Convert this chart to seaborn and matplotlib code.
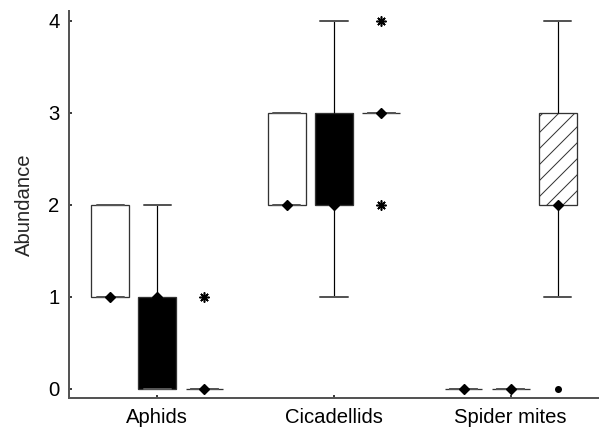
import numpy as np
import pandas as pd
import seaborn as sns
import matplotlib
matplotlib.use("Agg")
import matplotlib.pyplot as plt

# ---------------- data ----------------
groups = ["Aphids", "Cicadellids", "Spider mites"]
treatments = ["T1", "T2", "T3"]

aphids_t1 = [1, 1, 1, 2, 2]
aphids_t2 = [0, 0, 1, 1, 2]
aphids_t3 = [0, 0, 0, 0, 1]
cicadellids_t1 = [2, 2, 2, 3, 3]
cicadellids_t2 = [1, 2, 2, 2, 3, 3, 4]
cicadellids_t3 = [2, 3, 3, 3, 3, 3, 4]
spider_t1 = [0, 0, 0, 0, 0]
spider_t2 = [0, 0, 0, 0, 0]
spider_t3 = [0, 1, 2, 2, 2, 2, 3, 3, 3, 4]

y_ticks = [0, 1, 2, 3, 4]
y_label = "Abundance"

series = {
    ("Aphids", "T1"): aphids_t1, ("Aphids", "T2"): aphids_t2, ("Aphids", "T3"): aphids_t3,
    ("Cicadellids", "T1"): cicadellids_t1, ("Cicadellids", "T2"): cicadellids_t2,
    ("Cicadellids", "T3"): cicadellids_t3,
    ("Spider mites", "T1"): spider_t1, ("Spider mites", "T2"): spider_t2,
    ("Spider mites", "T3"): spider_t3,
}
rows = [(g, t, v) for (g, t), vals in series.items() for v in vals]
df = pd.DataFrame(rows, columns=["group", "treatment", "value"])

# ---------------- style ----------------
DPI = 96
PX = 72.0 / DPI  # points per pixel
sns.set_style("ticks")
plt.rcParams["font.family"] = ["Liberation Sans", "DejaVu Sans"]
plt.rcParams["hatch.linewidth"] = 1.0 * PX
plt.rcParams["hatch.color"] = "#333333"

fig = plt.figure(figsize=(599 / DPI, 435 / DPI), dpi=DPI)
ax = fig.add_axes([69 / 599, 1 - 397.7 / 435, (599 - 69) / 599, (397.7 - 11) / 435])

edge = "#333333"
sns.boxplot(
    data=df, x="group", y="value", hue="treatment",
    order=groups, hue_order=treatments,
    palette=["white", "black", "white"],
    width=0.8, gap=0.2, whis=1.5,
    linecolor=edge, linewidth=1.3 * PX,
    capwidths=0.153,
    boxprops=dict(edgecolor=edge, linewidth=1.3 * PX),
    whiskerprops=dict(color="black", linewidth=1.2 * PX),
    capprops=dict(color="#555555", linewidth=2.0 * PX),
    medianprops=dict(color="black", linewidth=0),
    flierprops=dict(marker=(8, 2, 0), markersize=10 * PX, markeredgewidth=1.6 * PX,
                    markeredgecolor="black", markerfacecolor="black"),
    legend=False, ax=ax,
)

# post-process: hatch, median diamonds, outlier classes
for hi, cont in enumerate(ax.containers):
    t = treatments[hi]
    if t == "T3":
        for b in cont.boxes:
            b.set_hatch("//")
    for m in cont.medians:
        xd = np.asarray(m.get_xdata(), dtype=float)
        yd = np.asarray(m.get_ydata(), dtype=float)
        m.set_data([xd.mean()], [yd.mean()])
        m.set_linestyle("None")
        m.set_marker("D")
        m.set_markersize(6.5 * PX)
        m.set_markerfacecolor("black")
        m.set_markeredgecolor("black")
        m.set_zorder(5)
    for gi, fl in enumerate(cont.fliers):
        vals = np.asarray(series[(groups[gi], t)], dtype=float)
        q1, q3 = np.percentile(vals, [25, 75])
        iqr = q3 - q1
        ys = np.asarray(fl.get_ydata(), dtype=float)
        if len(ys) and np.all((ys >= q1 - 3 * iqr) & (ys <= q3 + 3 * iqr)):
            fl.set_marker("o")
            fl.set_markersize(7 * PX)
            fl.set_markeredgewidth(0)

FS = 20.3 * PX
ax.set_xlim(-0.5, 2.5)
ax.set_ylim(-0.095, 4.105)
ax.set_yticks(y_ticks)
ax.set_xlabel("")
ax.set_ylabel(y_label, fontsize=FS, labelpad=14.6 * PX)
ax.tick_params(axis="both", direction="in", length=3 * PX, width=1.5 * PX,
               color="black", labelsize=FS, colors="black")
ax.tick_params(axis="y", pad=9.4 * PX)
ax.tick_params(axis="x", pad=10.4 * PX)
for s in ["top", "right"]:
    ax.spines[s].set_visible(False)
for s in ["left", "bottom"]:
    ax.spines[s].set_color("#555555")
    ax.spines[s].set_linewidth(2 * PX)

fig.savefig("out.png", dpi=DPI)
